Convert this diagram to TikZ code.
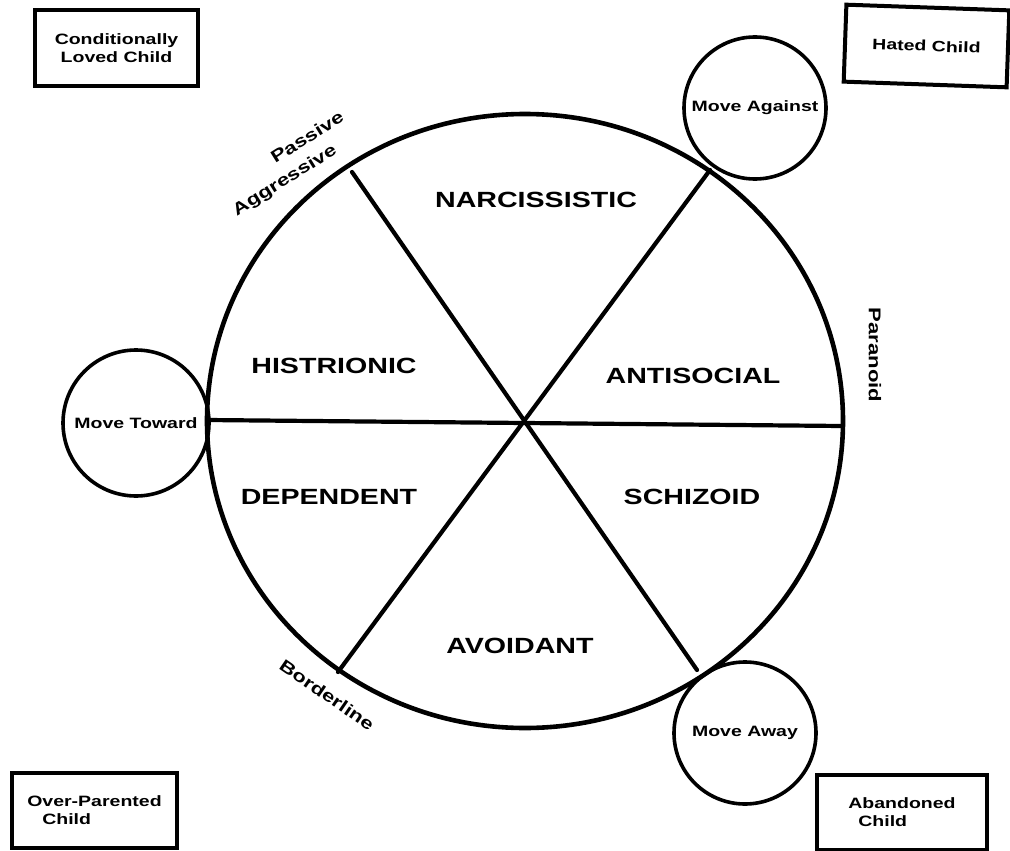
\documentclass[tikz,border=0pt]{standalone}
\usepackage{fontspec}
\setmainfont{Liberation Sans}[FakeStretch=1.3]
\begin{document}
\begin{tikzpicture}[x=1pt,y=-1pt,
  lbl/.style={font=\bfseries\fontsize{15}{16}\selectfont, inner sep=0pt},
  sector/.style={font=\bfseries\fontsize{22}{24}\selectfont, inner sep=0pt},
  side/.style={font=\bfseries\fontsize{17}{18}\selectfont, inner sep=0pt},
  childbox/.style={draw, line width=4pt, inner sep=0pt, font=\bfseries\fontsize{15}{18}\selectfont},
  movecirc/.style={draw, circle, line width=3.6pt, inner sep=0pt, font=\bfseries\fontsize{15}{16}\selectfont},
  spoke/.style={line width=4.2pt, line cap=round}
]
\path[use as bounding box, fill=white] (0,0) rectangle (1010,851);

% main circle
\coordinate (c) at (525,421);
\draw[line width=4.6pt] (c) ellipse [x radius=318pt, y radius=307pt];

% spokes
\coordinate (hl) at (207,420);
\coordinate (hr) at (842,426);
\coordinate (d1a) at (352,172);
\coordinate (d1b) at (697,670);
\coordinate (d2a) at (710,170);
\coordinate (d2b) at (338,672);
\draw[spoke] (hl) -- (hr);
\draw[spoke] (d1a) -- (d1b);
\draw[spoke] (d2a) -- (d2b);

% sector labels
\node[sector] (narc) at (536,200) {NARCISSISTIC};
\node[sector] (hist) at (334,366) {HISTRIONIC};
\node[sector] (anti) at (693,376) {ANTISOCIAL};
\node[sector] (dep) at (329,497) {DEPENDENT};
\node[sector] (schiz) at (692,497) {SCHIZOID};
\node[sector] (avoid) at (520,646) {AVOIDANT};

% side labels
\node[side, rotate=32] (pass) at (307,137) {Passive};
\node[side, rotate=32] (aggr) at (285,181) {Aggressive};
\node[side, rotate=-90] (para) at (875,355) {Paranoid};
\node[side, rotate=-34.5] (bord) at (327,695) {Borderline};

% move circles
\node[movecirc, minimum size=142pt] (against) at (755,108) {Move Against};
\node[movecirc, minimum size=146pt] (toward) at (136,423) {Move Toward};
\node[movecirc, minimum size=142pt] (away) at (745,733) {Move Away};

% child boxes
\node[childbox, minimum width=163pt, minimum height=76pt, align=center] (cond) at (116.5,48) {Conditionally\\Loved Child};
\node[childbox, minimum width=163pt, minimum height=77pt, rotate=-2] (hated) at (926.5,46) {Hated Child};
\node[childbox, minimum width=165pt, minimum height=75pt, align=left] (over) at (94.5,810.5) {Over-Parented\\\hspace*{15pt}Child};
\node[childbox, minimum width=170pt, minimum height=75pt, align=left] (aban) at (902,812.5) {Abandoned\\\hspace*{10pt}Child};
\end{tikzpicture}
\end{document}
